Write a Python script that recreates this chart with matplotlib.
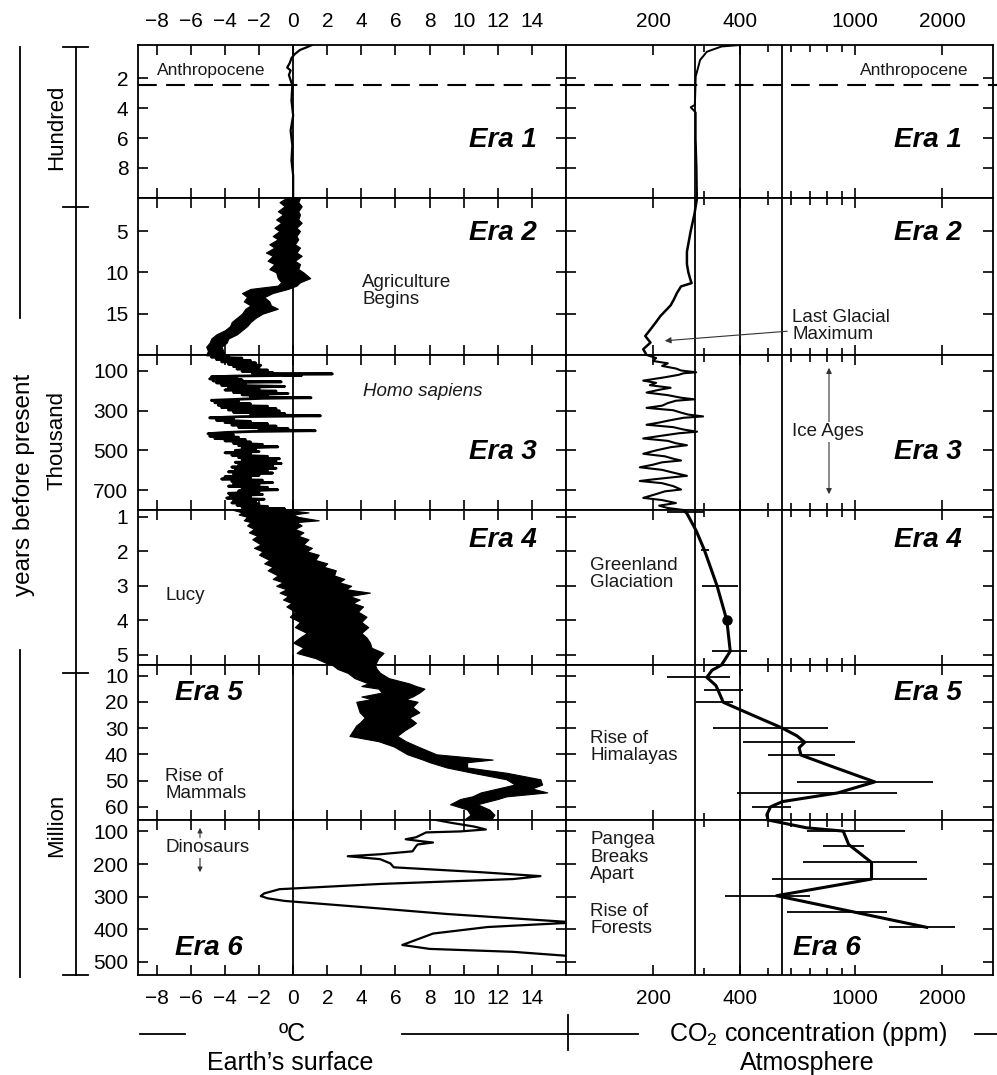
import numpy as np
import matplotlib.pyplot as plt
from matplotlib.ticker import NullFormatter

plt.rcParams['font.family'] = ['Liberation Sans', 'DejaVu Sans']
plt.rcParams['mathtext.fontset'] = 'custom'
plt.rcParams['mathtext.rm'] = 'Liberation Sans'

# ---- data -------------------------------------------------------------
# y ranges of the six eras (top, bottom) and their tick values
era_ylim = [(-0.2, 10), (1, 20), (20, 800), (0.8, 5.3), (6, 65), (65, 540)]
era_yticks = [[2, 4, 6, 8], [5, 10, 15], [100, 300, 500, 700],
              [1, 2, 3, 4, 5], [10, 20, 30, 40, 50, 60], [100, 200, 300, 400, 500]]
temp_ticks = list(range(-8, 15, 2))
co2_ticks = [200, 400, 1000, 2000]
co2_minor = [300, 500, 600, 700, 800, 900]
co2_refs = [280, 400, 560]

# temperature (deg C); era 1 in hundreds of years
era1_temp = [(-0.2, 1.1), (-0.05, 0.8), (0.13, 0.4), (0.4, 0.1), (0.67, -0.1), (1.0, -0.2),
             (1.3, -0.35), (1.5, -0.15), (1.8, -0.25), (2.5, -0.05), (3.5, -0.1), (4.5, 0.0),
             (5.5, -0.15), (6.5, -0.05), (7.5, -0.1), (8.5, 0.0), (10, 0.0)]
# era 2 band (thousand years, low, high)
era2_band = [(1, -0.4, 0.4), (1.5, -0.8, 0.3), (2, -0.5, 0.5), (2.6, -0.9, 0.3), (3, -0.6, 0.4),
             (3.6, -1.0, 0.3), (4, -0.7, 0.5), (4.6, -1.1, 0.2), (5, -0.8, 0.4), (5.6, -1.2, 0.2),
             (6, -0.9, 0.3), (6.6, -1.4, 0.1), (7, -1.1, 0.4), (7.6, -1.6, 0.2), (8, -1.2, 0.5),
             (8.6, -1.5, 0.1), (9, -1.1, 0.4), (9.6, -1.4, 0.3), (10, -1.0, 0.6), (10.7, -0.9, 1.0),
             (11.2, -0.7, 0.4), (11.6, -0.9, 0.2), (12, -2.5, -0.3), (12.5, -3.0, -1.2),
             (13, -2.7, -1.7), (13.5, -2.9, -1.4), (14, -2.5, -1.3), (14.4, -2.8, -0.9), (15, -3.0, -1.8),
             (15.5, -3.3, -2.2), (16, -3.6, -2.5), (16.5, -3.7, -2.7), (17, -4.0, -3.0), (17.5, -4.5, -3.3),
             (18, -4.8, -3.8), (18.5, -4.9, -3.9), (19, -5.1, -4.2), (19.5, -5.0, -4.1), (20, -5.1, -4.0)]
# era 3 (thousand years)
era3_temp = [(20, -5.0), (25, -3.8), (30, -4.8), (36, -3.0), (42, -4.5), (48, -2.5), (54, -4.2),
             (60, -2.2), (66, -3.8), (72, -1.9), (78, -3.5), (84, -2.0), (90, -3.3), (96, -1.5),
             (102, -3.0), (108, -1.2), (112, -2.4), (115, 2.3), (118, -1.0), (122, 0.5), (126, -3.5),
             (130, -4.8), (135, -3.3), (140, -4.9), (145, -3.0), (150, -4.7), (155, -0.7), (160, -4.5),
             (166, -2.8), (172, -4.2), (178, -0.5), (184, -3.8), (190, -2.0), (196, -4.0), (202, -1.0),
             (208, -3.5), (214, -0.3), (220, -3.0), (226, -1.5), (232, -2.5), (235, 1.05), (238, -1.8),
             (242, -3.0), (248, -4.8), (254, -3.2), (260, -4.6), (266, -2.5), (272, -4.4), (278, -1.5),
             (284, -4.2), (290, -1.0), (296, -3.8), (302, -0.8), (308, -3.5), (314, -0.5), (320, -2.5),
             (326, 1.6), (330, -3.0), (336, -4.9), (342, -3.5), (348, -4.5), (354, -2.5), (360, -4.0),
             (366, -1.5), (372, -3.6), (378, -1.0), (384, -3.2), (390, -0.3), (396, -2.0), (401, 1.3),
             (405, -2.5), (410, -4.0), (416, -5.0), (422, -3.5), (428, -4.9), (434, -3.2), (440, -4.6),
             (446, -2.8), (452, -4.0), (458, -2.5), (464, -3.5), (470, -1.8), (476, -3.2), (482, -0.9),
             (488, -3.0), (494, -2.2), (500, -3.4), (506, -2.0), (512, -4.0), (518, -2.5), (524, -3.6),
             (530, -1.5), (536, -3.2), (542, -0.8), (548, -3.0), (554, -1.0), (560, -3.4), (566, -0.7),
             (572, -3.2), (578, -1.2), (584, -3.6), (590, -1.0), (596, -3.4), (602, -1.5), (608, -3.8),
             (614, -1.2), (620, -3.5), (626, -2.0), (632, -4.0), (638, -2.5), (644, -4.2), (650, -1.8),
             (656, -3.6), (662, -1.2), (668, -3.5), (674, -2.0), (680, -3.8), (686, -1.5), (692, -3.0),
             (698, -0.9), (704, -3.2), (710, -2.0), (716, -3.8), (722, -1.8), (728, -3.7), (734, -2.5),
             (740, -3.9), (746, -1.7), (752, -3.5), (758, -2.2), (764, -3.6), (770, -2.0), (776, -3.3),
             (782, -1.5), (788, -3.0), (794, -0.5), (800, -2.8)]
# era 4 band (million years, low, high)
era4_band = [(0.8, -3.5, -0.3), (0.87, -3.0, 0.9), (0.93, -3.2, 0.0), (1.0, -2.7, 0.3), (1.1, -2.9, 1.5),
             (1.15, -2.5, 0.2), (1.25, -2.7, 0.5), (1.35, -2.3, 0.1), (1.45, -2.6, 0.6), (1.55, -2.1, 0.3),
             (1.65, -2.4, 0.9), (1.8, -1.9, 0.6), (1.9, -2.3, 1.1), (2.0, -1.8, 0.8), (2.1, -2.0, 1.5),
             (2.25, -1.4, 1.3), (2.35, -1.7, 2.0), (2.45, -1.2, 1.8), (2.55, -1.5, 2.5), (2.7, -0.9, 2.4),
             (2.8, -1.2, 3.0), (2.9, -0.6, 2.7), (3.0, -1.0, 3.4), (3.1, -0.4, 3.1), (3.2, -0.8, 4.5),
             (3.3, -0.3, 3.3), (3.4, -0.6, 3.9), (3.5, -0.1, 3.5), (3.6, -0.4, 4.1), (3.75, 0.1, 3.8),
             (3.9, -0.2, 4.3), (4.05, 0.4, 4.0), (4.2, 0.1, 4.4), (4.37, 0.8, 4.0), (4.5, 0.4, 4.3),
             (4.65, 0.0, 4.5), (4.8, 0.6, 4.6), (4.95, 0.2, 5.3), (5.1, 1.3, 5.0), (5.3, 2.2, 4.8)]
# era 5 band (million years, low, high)
era5_band = [(6.0, 2.3, 4.8), (7.5, 2.6, 4.9), (9, 3.2, 5.1), (11, 3.6, 5.6), (13, 4.4, 6.8),
             (14, 4.0, 7.2), (15, 5.0, 7.7), (16.5, 5.2, 7.4), (18, 4.0, 7.0), (19, 4.6, 6.6),
             (20, 3.7, 7.3), (22, 3.8, 7.0), (24, 3.9, 7.4), (26, 4.2, 6.8), (28, 3.9, 7.2),
             (29, 3.7, 7.0), (31, 3.5, 6.5), (33, 3.3, 6.1), (35, 5.0, 6.6), (37, 5.9, 7.3),
             (40, 6.7, 8.4), (42, 7.6, 11.7), (43, 8.0, 10.2), (45, 9.0, 10.2), (47, 10.5, 12.5),
             (49.5, 12.5, 14.5), (51.5, 13.0, 14.6), (53, 12.0, 14.0), (54.5, 11.0, 14.9), (56, 10.5, 12.5),
             (57, 9.8, 12.0), (59, 9.2, 10.8), (61, 10.2, 11.5), (63, 10.4, 11.8), (65, 10.0, 11.6)]
# era 6 (million years)
era6_temp = [(65, 8.4), (73, 9.2), (85, 10.6), (94, 11.3), (100, 9.8), (103, 7.8), (118, 7.2),
             (124, 6.6), (130, 7.5), (134, 8.2), (140, 7.3), (146, 7.2), (161, 7.0), (170, 5.1),
             (176, 3.2), (185, 5.1), (198, 5.7), (210, 5.9), (225, 11.0), (237, 14.5), (246, 12.9),
             (261, 5.1), (277, -0.8), (290, -1.7), (298, -1.9), (305, -1.5), (313, -0.5), (332, 4.1),
             (353, 9.0), (377, 16.0), (380, 16.2), (393, 11.4), (413, 8.2), (448, 6.4), (460, 8.0),
             (469, 12.9), (481, 16.0), (540, 17.0)]

# CO2 (ppm)
era1_co2 = [(-0.2, 400), (-0.1, 345), (0.25, 307), (0.8, 291), (1.9, 281), (3.0, 280), (3.8, 279),
            (3.95, 270), (4.3, 281), (6, 281), (8, 283), (10, 284)]
era2_co2 = [(1, 284), (3, 278), (5, 270), (7.5, 262), (9, 262), (10, 265), (11, 270), (11.3, 272),
            (11.7, 250), (12.5, 242), (13.3, 236), (14, 230), (15.3, 212), (16, 205), (16.9, 196),
            (17.7, 188), (18.5, 196), (19.3, 185), (20, 190)]
era3_co2 = [(20, 190), (35, 205), (50, 200), (62, 225), (75, 215), (88, 240), (98, 250), (107, 282),
            (112, 255), (120, 245), (132, 220), (149, 185), (160, 205), (172, 195), (185, 230),
            (195, 210), (209, 190), (222, 225), (235, 250), (243, 278), (250, 240), (262, 225),
            (275, 215), (286, 190), (298, 235), (310, 250), (320, 265), (329, 298), (336, 255),
            (348, 230), (360, 210), (371, 190), (383, 235), (395, 255), (406, 284), (414, 245),
            (428, 210), (440, 185), (452, 225), (464, 240), (474, 262), (484, 230), (500, 205),
            (517, 185), (530, 220), (542, 235), (551, 250), (560, 215), (572, 200), (585, 180),
            (598, 215), (612, 235), (628, 262), (638, 225), (646, 200), (654, 180), (665, 215),
            (680, 235), (697, 250), (706, 220), (720, 205), (739, 185), (750, 215), (765, 240),
            (778, 210), (790, 225), (800, 255)]
era4_co2 = [(0.8, 255), (0.9, 262), (1.4, 282), (1.96, 301), (3.0, 333), (4.0, 360), (4.9, 370),
            (5.3, 345)]
era4_err = [(0.85, 224, 300), (1.96, 293, 312), (3.0, 296, 392), (4.9, 320, 424)]
era4_dot = (4.0, 360)
era5_co2 = [(6.0, 345), (8, 320), (10.7, 307), (13.8, 330), (15.7, 336), (20.2, 350), (25, 440),
            (30, 560), (33, 630), (35.4, 670), (37.5, 640), (40.3, 650), (45, 850), (50.5, 1170),
            (54.7, 870), (58, 560), (60, 510), (63, 495), (65, 500)]
era5_err = [(10.7, 224, 370), (15.7, 300, 410), (20.2, 282, 378), (30, 322, 804), (35.4, 408, 1000),
            (40.3, 500, 850), (50.5, 630, 1860), (54.7, 390, 1400), (60, 440, 600)]
era6_co2 = [(65, 500), (89, 680), (99, 910), (140, 950), (195, 1140), (246, 1140), (297, 535),
            (394, 1770)]
era6_err = [(99, 680, 1490), (146, 777, 1070), (195, 663, 1635), (246, 515, 1770), (297, 355, 700),
            (347, 580, 1290), (394, 1306, 2220)]

# ---- layout ------------------------------------------------------------
W, H = 997, 1075
fig = plt.figure(figsize=(W / 100, H / 100), dpi=100)
rows = [45, 198, 355, 510, 665, 820, 975]
cols = [138, 566, 993]


def box(x0, x1, y0, y1):
    return [x0 / W, 1 - y1 / H, (x1 - x0) / W, (y1 - y0) / H]


def unz(pts):
    return [list(v) for v in zip(*pts)]


axes = []
for i in range(6):
    pair = []
    for j in range(2):
        ax = fig.add_axes(box(cols[j], cols[j + 1], rows[i], rows[i + 1]))
        ax.set_ylim(era_ylim[i][1], era_ylim[i][0])
        ax.set_yticks(era_yticks[i])
        if j == 0:
            ax.set_xlim(-9.1, 16)
            ax.set_xticks(temp_ticks)
            ax.axvline(0, color='k', lw=1.3, zorder=1)
        else:
            ax.set_xscale('log')
            ax.set_xlim(100, 3000)
            ax.set_xticks(co2_ticks)
            ax.set_xticklabels([str(t) for t in co2_ticks])
            ax.set_xticks(co2_minor, minor=True)
            ax.xaxis.set_minor_formatter(NullFormatter())
            for r in co2_refs:
                ax.axvline(r, color='k', lw=1.3, zorder=1)
        ax.tick_params(which='both', direction='in', top=True, bottom=True, left=True, right=True,
                       length=7, width=1.2, labelsize=15, colors='k')
        ax.tick_params(which='minor', length=5)
        ax.tick_params(axis='x', pad=10)
        ax.tick_params(axis='y', pad=7)
        ax.tick_params(labeltop=(i == 0), labelbottom=(i == 5), labelleft=(j == 0), labelright=False)
        for s in ax.spines.values():
            s.set_linewidth(1.3)
        pair.append(ax)
    axes.append(pair)

# ---- temperature -------------------------------------------------------
y, t = unz(era1_temp)
axes[0][0].plot(t, y, color='k', lw=1.6)
y, lo, hi = unz(era2_band)
axes[1][0].fill_betweenx(y, lo, hi, color='k', lw=0.8)
y, t = unz(era3_temp)
axes[2][0].plot(t, y, color='k', lw=2.0)
y, lo, hi = unz(era4_band)
axes[3][0].fill_betweenx(y, lo, hi, color='k', lw=0.8)
y, lo, hi = unz(era5_band)
axes[4][0].fill_betweenx(y, lo, hi, color='k', lw=0.8)
y, t = unz(era6_temp)
axes[5][0].plot(t, y, color='k', lw=1.6)

# ---- CO2 ---------------------------------------------------------------
for k, (pts, lw) in enumerate([(era1_co2, 1.4), (era2_co2, 1.8), (era3_co2, 1.5),
                               (era4_co2, 2.2), (era5_co2, 2.2), (era6_co2, 2.2)]):
    y, c = unz(pts)
    axes[k][1].plot(c, y, color='k', lw=lw, zorder=3)
for k, err in [(3, era4_err), (4, era5_err), (5, era6_err)]:
    y, lo, hi = unz(err)
    axes[k][1].hlines(y, lo, hi, color='k', lw=1.3, zorder=3)
axes[3][1].plot(era4_dot[1], era4_dot[0], 'o', color='k', ms=6.5, zorder=4)

# Anthropocene boundary
for ax in axes[0]:
    ax.axhline(2.5, color='k', lw=1.5, dashes=(9, 4.5))

# ---- annotations in pixel space ---------------------------------------
ov = fig.add_axes([0, 0, 1, 1], zorder=10)
ov.set_xlim(0, W)
ov.set_ylim(H, 0)
ov.axis('off')
ov.plot([993, 997], [85, 85], color='k', lw=1.5)

era_kw = dict(fontsize=20, fontweight='bold', fontstyle='italic', va='center')
for n, yy in zip([1, 2, 3, 4], [140, 233, 452, 540]):
    ov.text(537, yy, 'Era %d' % n, ha='right', **era_kw)
    ov.text(962, yy, 'Era %d' % n, ha='right', **era_kw)
ov.text(175, 693, 'Era 5', ha='left', **era_kw)
ov.text(175, 948, 'Era 6', ha='left', **era_kw)
ov.text(962, 693, 'Era 5', ha='right', **era_kw)
ov.text(793, 948, 'Era 6', ha='left', **era_kw)

lab = dict(fontsize=13.5, va='center', ha='left', linespacing=1.0, color='#1a1a1a')
ov.text(157, 70, 'Anthropocene', **dict(lab, fontsize=12.5))
ov.text(968, 70, 'Anthropocene', **dict(lab, fontsize=12.5, ha='right'))
ov.text(362, 291, 'Agriculture\nBegins', **lab)
ov.text(363, 391, 'Homo sapiens', fontstyle='italic', **lab)
ov.text(165, 595, 'Lucy', **lab)
ov.text(165, 785, 'Rise of\nMammals', **lab)
ov.text(165, 848, 'Dinosaurs', zorder=5,
        bbox=dict(facecolor='white', edgecolor='none', pad=1), **lab)
ov.annotate('', xy=(200, 825), xytext=(200, 875),
            arrowprops=dict(arrowstyle='<|-|>', lw=0.8, color='#333333', mutation_scale=7))
ov.text(792, 326, 'Last Glacial\nMaximum', **lab)
ov.annotate('', xy=(662, 341), xytext=(790, 331),
            arrowprops=dict(arrowstyle='-|>', lw=0.8, color='#333333', mutation_scale=9))
ov.text(792, 432, 'Ice Ages', zorder=5,
        bbox=dict(facecolor='white', edgecolor='none', pad=1), **lab)
ov.annotate('', xy=(829, 365), xytext=(829, 497),
            arrowprops=dict(arrowstyle='<|-|>', lw=0.8, color='#333333', mutation_scale=8))
ov.text(590, 574, 'Greenland\nGlaciation', **lab)
ov.text(590, 747, 'Rise of\nHimalayas', **lab)
ov.text(590, 857, 'Pangea\nBreaks\nApart', **dict(lab, linespacing=1.05))
ov.text(590, 920, 'Rise of\nForests', **dict(lab, linespacing=1.05))

# left side brackets
ov.plot([76, 76], [47, 975], color='k', lw=1.3)
for yy in [47, 207, 673, 975]:
    ov.plot([63, 88], [yy, yy], color='k', lw=1.3)
ov.text(57, 127, 'Hundred', rotation=90, ha='center', va='center', fontsize=16)
ov.text(57, 440, 'Thousand', rotation=90, ha='center', va='center', fontsize=16)
ov.text(57, 825, 'Million', rotation=90, ha='center', va='center', fontsize=16)
ov.plot([20, 20], [47, 318], color='k', lw=1.3)
ov.plot([20, 20], [650, 977], color='k', lw=1.3)
ov.text(24, 485, 'years before present', rotation=90, ha='center', va='center', fontsize=17.5)

# bottom labels
ov.plot([140, 185], [1034, 1034], color='k', lw=1.3)
ov.plot([402, 638], [1034, 1034], color='k', lw=1.3)
ov.plot([568, 568], [1015, 1050], color='k', lw=1.3)
ov.plot([975, 997], [1034, 1034], color='k', lw=1.3)
ov.text(292, 1034, 'ºC', ha='center', va='center', fontsize=18)
ov.text(290, 1063, 'Earth’s surface', ha='center', va='center', fontsize=18)
ov.text(808, 1034, 'CO$_\\mathrm{2}$ concentration (ppm)', ha='center', va='center', fontsize=18)
ov.text(807, 1063, 'Atmosphere', ha='center', va='center', fontsize=18)

fig.savefig('out.png', dpi=100)
